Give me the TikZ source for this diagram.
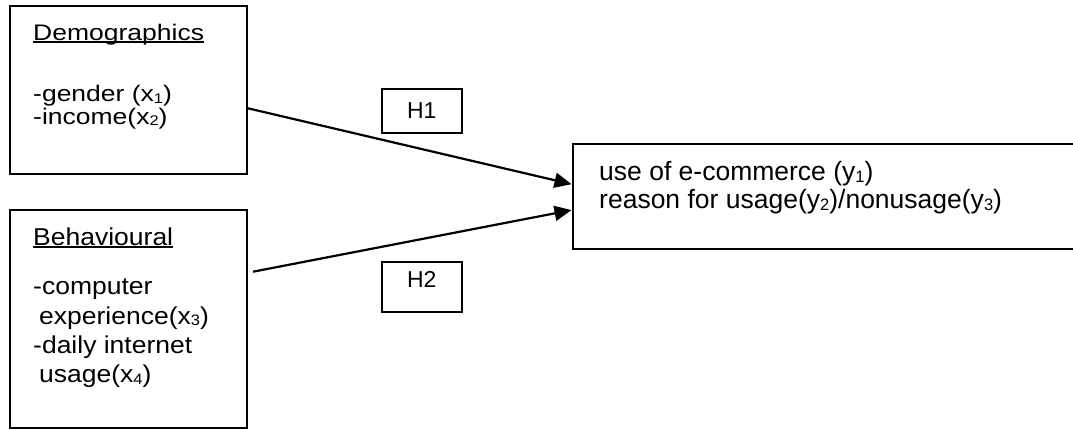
\documentclass[tikz,border=0pt]{standalone}
\usepackage{fontspec}
\setmainfont{Liberation Sans}
\usetikzlibrary{arrows.meta}

% small lowered digit for variable indices
\newcommand\sbs[1]{\raisebox{-2pt}{\fontsize{16.5}{16.5}\selectfont #1}}
% underline drawn close to the baseline, through the descenders
\newcommand\ulword[1]{\setbox0\hbox{#1}\rlap{\rule[-2.6pt]{\wd0}{1.8pt}}\box0}

\tikzset{
  box/.style={draw=black, line width=2pt, fill=none, inner sep=0pt},
  txt/.style={anchor=base west, inner sep=0pt, font=\fontsize{26.5}{30}\selectfont},
  hyp/.style={anchor=base, inner sep=0pt, font=\fontsize{23}{26}\selectfont},
  arr/.style={line width=2.2pt, -{Triangle[length=17pt, width=15pt]}, shorten >=0.5pt},
}

\begin{document}
\begin{tikzpicture}[x=1pt, y=-1pt]
  \useasboundingbox (0,0) rectangle (1073,429);
  \clip (0,0) rectangle (1073,429);

  % boxes
  \node[box, minimum width=237pt, minimum height=168pt] (demo) at (128.5,90) {};
  \node[box, minimum width=237pt, minimum height=218pt] (behav) at (128.5,319) {};
  \node[box, minimum width=80pt, minimum height=44pt] (h1) at (421.7,111) {};
  \node[box, minimum width=80pt, minimum height=50pt] (h2) at (421.7,286.7) {};
  \node[box, minimum width=530pt, minimum height=105pt] (res) at (838,196.5) {};

  % demographics text
  \node[txt] (demotitle) at (33,40.7) {\scalebox{1}[0.85]{\ulword{Demographics}}};
  \node[txt] (gender) at (33,101.7) {\scalebox{1}[0.85]{-gender (x\sbs{1})}};
  \node[txt] (income) at (33,124) {\scalebox{1}[0.85]{-income(x\sbs{2})}};

  % behavioural text
  \node[txt] (behavtitle) at (33,245.7) {\scalebox{1}[0.92]{\ulword{Behavioural}}};
  \node[txt] (comp) at (33,294) {\scalebox{1}[0.92]{-computer}};
  \node[txt] (exper) at (39,324) {\scalebox{1}[0.92]{experience(x\sbs{3})}};
  \node[txt] (daily) at (33,353) {\scalebox{1}[0.92]{-daily internet}};
  \node[txt] (usage) at (39,382.7) {\scalebox{1}[0.92]{usage(x\sbs{4})}};

  % outcome text
  \node[txt] (use) at (599,180) {use of e-commerce (y\sbs{1})};
  \node[txt] (reason) at (599,208.3) {reason for usage(y\sbs{2})/nonusage(y\sbs{3})};

  % hypothesis labels
  \node[hyp] (h1t) at (421.7,118.3) {H1};
  \node[hyp] (h2t) at (421.7,287.3) {H2};

  % hypothesised paths
  \draw[arr] (demo.east |- 0,108.3) -- (res.west |- 0,184.3);
  \draw[arr] ([xshift=5pt]behav.east |- 0,271.7) -- (res.west |- 0,210);
\end{tikzpicture}
\end{document}
